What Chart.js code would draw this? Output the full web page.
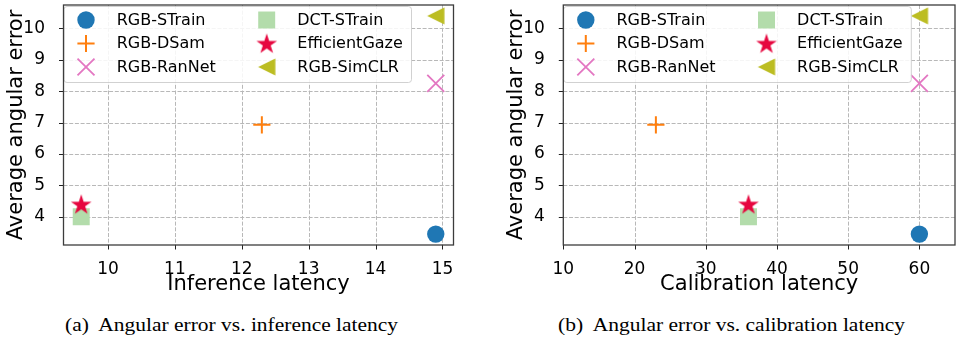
<!DOCTYPE html>
<html><head><meta charset="utf-8">
<script src="https://cdn.jsdelivr.net/npm/chart.js@4.4.1/dist/chart.umd.min.js"></script>
<style>
html,body{margin:0;padding:0;background:#fff}
body{width:960px;height:348px;overflow:hidden;position:relative}
#c1{position:absolute;left:0;top:0}
#c2{position:absolute;left:500px;top:0}
.cap{position:absolute;top:315px;font-family:'Liberation Serif',serif;font-size:19px;line-height:19px;white-space:nowrap;color:#000;transform-origin:left center}
</style></head><body>
<canvas id="c1" width="480" height="300" style="width:480px;height:300px"></canvas>
<canvas id="c2" width="460" height="300" style="width:460px;height:300px"></canvas>
<div class="cap" id="capA">(a)&nbsp; Angular error vs. inference latency</div>
<div class="cap" id="capB">(b)&nbsp; Angular error vs. calibration latency</div>
<script>
// ---- data ----
const seriesNames = ['RGB-STrain', 'RGB-DSam', 'RGB-RanNet', 'DCT-STrain', 'EfficientGaze', 'RGB-SimCLR'];
const inferenceLatency = [14.9, 12.3, 14.9, 9.6, 9.6, 14.9];
const calibrationLatency = [60, 23, 60, 36, 36, 60];
const angularError = [3.45, 6.93, 8.25, 4.0, 4.4, 10.4];
const xTicksA = [10, 11, 12, 13, 14, 15];
const xTicksB = [10, 20, 30, 40, 50, 60];
const yTicks = [4, 5, 6, 7, 8, 9, 10];
const xTitleA = 'Inference latency';
const xTitleB = 'Calibration latency';
const yTitle = 'Average angular error';

// ---- marker images ----
function starImg(color) {
  const c = document.createElement('canvas'); c.width = 24; c.height = 24;
  const g = c.getContext('2d'); const R = 10.8, r = R * 0.382;
  g.beginPath();
  for (let k = 0; k < 10; k++) {
    const rad = (k % 2 ? r : R), a = -Math.PI / 2 + k * Math.PI / 5;
    const px = 12 + rad * Math.cos(a), py = 12.8 + rad * Math.sin(a);
    k ? g.lineTo(px, py) : g.moveTo(px, py);
  }
  g.closePath(); g.fillStyle = color; g.fill(); return c;
}
function triLeftImg(color) {
  const c = document.createElement('canvas'); c.width = 20; c.height = 20;
  const g = c.getContext('2d'); const h = 8.6;
  g.beginPath(); g.moveTo(10 - h, 10); g.lineTo(10 + h, 10 - h); g.lineTo(10 + h, 10 + h); g.closePath();
  g.fillStyle = color; g.fill(); return c;
}
const styles = [
  {pointStyle: 'circle', pointRadius: 8.7, backgroundColor: '#1f77b4', borderColor: '#1f77b4', borderWidth: 0},
  {pointStyle: 'cross', pointRadius: 8.6, backgroundColor: '#ff7f0e', borderColor: '#ff7f0e', borderWidth: 2},
  {pointStyle: 'crossRot', pointRadius: 12, backgroundColor: '#e377c2', borderColor: '#e377c2', borderWidth: 1.8},
  {pointStyle: 'rect', pointRadius: 12, backgroundColor: '#b3dcab', borderColor: '#b3dcab', borderWidth: 0},
  {pointStyle: starImg('#e6073f'), pointRadius: 11, backgroundColor: '#e6073f', borderColor: '#e6073f', borderWidth: 0},
  {pointStyle: triLeftImg('#bcbd22'), pointRadius: 9, backgroundColor: '#bcbd22', borderColor: '#bcbd22', borderWidth: 0}
];

function drawMarker(ctx, ds, x, y) {
  const st = ds.pointStyle, r = ds.pointRadius;
  ctx.save();
  if (st instanceof HTMLCanvasElement) { ctx.drawImage(st, x - st.width / 2, y - st.height / 2); ctx.restore(); return; }
  ctx.beginPath();
  if (st === 'circle') { ctx.arc(x, y, r, 0, 2 * Math.PI); ctx.fillStyle = ds.backgroundColor; ctx.fill(); }
  else if (st === 'rect') { const s = r * Math.SQRT1_2; ctx.fillStyle = ds.backgroundColor; ctx.fillRect(x - s, y - s, 2 * s, 2 * s); }
  else if (st === 'cross') { ctx.moveTo(x, y - r); ctx.lineTo(x, y + r); ctx.moveTo(x - r, y); ctx.lineTo(x + r, y); ctx.strokeStyle = ds.borderColor; ctx.lineWidth = ds.borderWidth; ctx.stroke(); }
  else if (st === 'crossRot') { const d = r * Math.SQRT1_2; ctx.moveTo(x - d, y - d); ctx.lineTo(x + d, y + d); ctx.moveTo(x + d, y - d); ctx.lineTo(x - d, y + d); ctx.strokeStyle = ds.borderColor; ctx.lineWidth = ds.borderWidth; ctx.stroke(); }
  ctx.restore();
}

// dashed grid + outward tick marks, positioned through the chart's own scales
const gridPlugin = {
  id: 'mplGrid',
  beforeDatasetsDraw(chart, args, opts) {
    const {ctx, chartArea: a, scales: {x, y}} = chart;
    ctx.save();
    ctx.strokeStyle = '#b8b8b8'; ctx.lineWidth = 1; ctx.setLineDash([4, 1.7]);
    ctx.beginPath();
    opts.xTicks.forEach(v => { const p = Math.round(x.getPixelForValue(v)) + 0.5; ctx.moveTo(p, a.top); ctx.lineTo(p, a.bottom); });
    opts.yTicks.forEach(v => { const p = Math.round(y.getPixelForValue(v)) + 0.5; ctx.moveTo(a.left, p); ctx.lineTo(a.right, p); });
    ctx.stroke();
    ctx.setLineDash([]); ctx.strokeStyle = '#222'; ctx.beginPath();
    opts.xTicks.forEach(v => { const p = Math.round(x.getPixelForValue(v)) + 0.5; ctx.moveTo(p, a.bottom); ctx.lineTo(p, a.bottom + 4.5); });
    opts.yTicks.forEach(v => { const p = Math.round(y.getPixelForValue(v)) + 0.5; ctx.moveTo(a.left - 4.5, p); ctx.lineTo(a.left, p); });
    ctx.stroke();
    ctx.restore();
  }
};

const frameLegend = {
  id: 'frameLegend',
  afterDatasetsDraw(chart) {
    const {ctx, chartArea: a} = chart;
    const dss = chart.data.datasets;
    ctx.save();
    const L = a.left + 0.5, T = a.top + 1.5, W = 347.5, H = 76, rr = 3;
    ctx.beginPath();
    ctx.moveTo(L + rr, T); ctx.lineTo(L + W - rr, T); ctx.arcTo(L + W, T, L + W, T + rr, rr);
    ctx.lineTo(L + W, T + H - rr); ctx.arcTo(L + W, T + H, L + W - rr, T + H, rr);
    ctx.lineTo(L + rr, T + H); ctx.arcTo(L, T + H, L, T + H - rr, rr);
    ctx.lineTo(L, T + rr); ctx.arcTo(L, T, L + rr, T, rr); ctx.closePath();
    ctx.fillStyle = 'rgba(255,255,255,0.85)'; ctx.fill();
    ctx.strokeStyle = 'rgba(204,204,204,0.9)'; ctx.lineWidth = 1; ctx.stroke();
    ctx.font = "16px 'DejaVu Sans'"; ctx.fillStyle = '#000'; ctx.textBaseline = 'middle'; ctx.textAlign = 'left';
    dss.forEach((ds, i) => {
      const col = Math.floor(i / 3), row = i % 3;
      const my = a.top + 15 + row * 23.5;
      const mx = a.left + (col ? 203.2 : 22.5);
      drawMarker(ctx, ds, mx, my);
      ctx.fillText(ds.label, a.left + (col ? 233.8 : 53.2), my + 0.5);
    });
    ctx.strokeStyle = '#3c3c3c'; ctx.lineWidth = 1.3;
    ctx.strokeRect(a.left, a.top, a.right - a.left, a.bottom - a.top);
    ctx.restore();
  }
};

Chart.defaults.font.family = "'DejaVu Sans'";
Chart.defaults.color = '#000';

function makeChart(id, xs, xMin, xMax, xTicks, xTitle, padRight, yWidth) {
  const datasets = seriesNames.map((n, i) => Object.assign({
    label: n,
    data: [{x: xs[i], y: angularError[i]}],
    order: seriesNames.length - i
  }, styles[i], {pointHoverRadius: styles[i].pointRadius}));
  return new Chart(document.getElementById(id), {
    type: 'scatter',
    data: {datasets},
    plugins: [gridPlugin, frameLegend],
    options: {
      responsive: false, animation: false, devicePixelRatio: 1,
      layout: {autoPadding: false, padding: {left: 0, top: 5, right: padRight, bottom: 0}},
      plugins: {legend: {display: false}, tooltip: {enabled: false}, mplGrid: {xTicks: xTicks, yTicks: yTicks}},
      scales: {
        x: {
          type: 'linear', min: xMin, max: xMax,
          afterBuildTicks: s => { s.ticks = xTicks.map(v => ({value: v})); },
          afterFit: s => { s.height = 55; s.paddingLeft = 0; s.paddingRight = 0; },
          grid: {display: false},
          border: {display: false},
          ticks: {font: {size: 17}, padding: 6, color: '#000', maxRotation: 0, autoSkip: false},
          title: {display: true, text: xTitle, font: {size: 21}, color: '#000', padding: {top: 0, bottom: 3}}
        },
        y: {
          type: 'linear', min: 3.1025, max: 10.7475,
          afterBuildTicks: s => { s.ticks = yTicks.map(v => ({value: v})); },
          afterFit: s => { s.width = yWidth; s.paddingTop = 0; s.paddingBottom = 0; },
          grid: {display: false},
          border: {display: false},
          ticks: {font: {size: 17}, padding: 10.5, color: '#000', autoSkip: false},
          title: {display: true, text: yTitle, font: {size: 21}, color: '#000', padding: {top: 4, bottom: 0}}
        }
      }
    }
  });
}

makeChart('c1', inferenceLatency, 9.335, 15.165, xTicksA, xTitleA, 26.5, 63.5);
makeChart('c2', calibrationLatency, 10, 65, xTicksB, xTitleB, 5, 63.3);

function placeCap(id, center, width) {
  const el = document.getElementById(id);
  const w = el.getBoundingClientRect().width;
  el.style.left = (center - width / 2) + 'px';
  el.style.transform = 'scaleX(' + (width / w) + ')';
}
placeCap('capA', 231.5, 333);
placeCap('capB', 731.5, 347);
</script>
</body></html>
